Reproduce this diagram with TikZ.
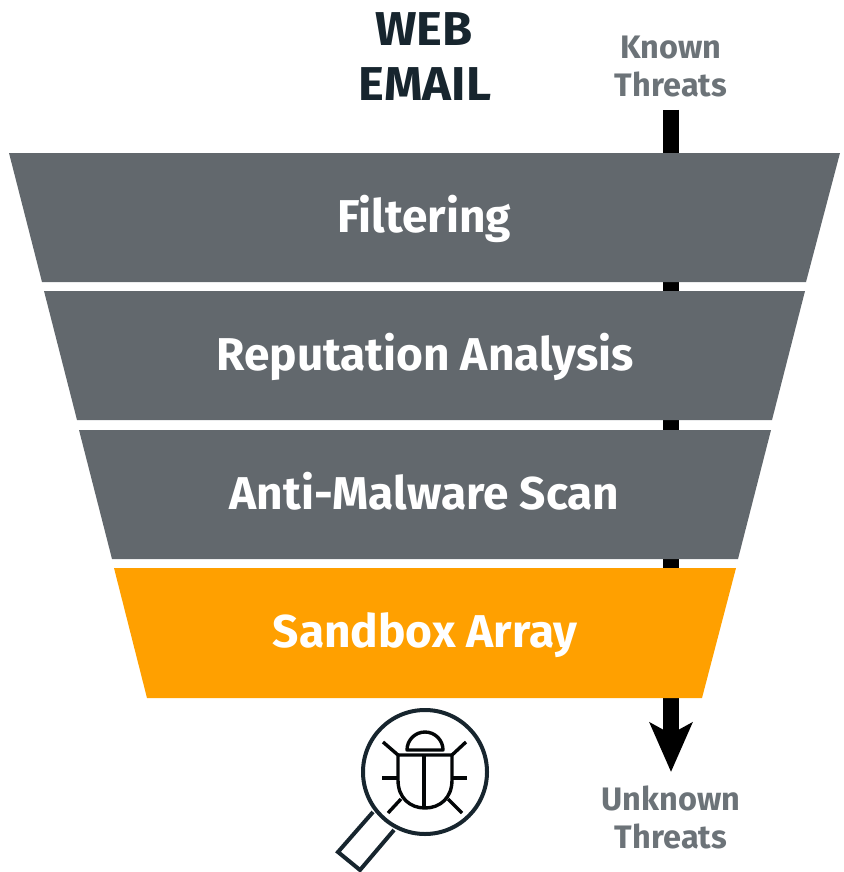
\documentclass[tikz,border=0pt]{standalone}
\usepackage{fontspec}
\setmainfont{Fira Sans}
\usetikzlibrary{arrows.meta}
\definecolor{slab}{HTML}{62686D}
\definecolor{amber}{HTML}{FFA000}
\definecolor{ink}{HTML}{17252E}
\definecolor{soft}{HTML}{6C7378}
\tikzset{
  layer/.style={fill=slab,draw=none},
  sandlayer/.style={fill=amber,draw=none},
  layertext/.style={text=white,font=\fontsize{46}{46}\selectfont\bfseries,inner sep=0pt,anchor=base},
  headtext/.style={text=ink,font=\fontsize{47.5}{48}\selectfont\bfseries,inner sep=0pt,anchor=base,xscale=1.03},
  sidetext/.style={text=soft,font=\fontsize{32.5}{38}\selectfont\bfseries,inner sep=0pt,anchor=base},
  flow/.style={line width=16pt,draw=black,-{Stealth[length=49pt,width=42pt,inset=11pt]}},
  icon/.style={draw=ink,line width=4pt,line join=miter},
  bug/.style={draw=black!85!ink,line width=3.4pt,line join=round}
}
\begin{document}
\begin{tikzpicture}[x=1pt,y=-1pt]
\useasboundingbox (0,0) rectangle (843,872);
\coordinate (arrowstart) at (671,110);
\coordinate (arrowend) at (671,772);
\draw[flow] (arrowstart) -- (arrowend);
\fill[layer] (9,153) -- (840,153) -- (806,282) -- (42,282) -- cycle;
\fill[layer] (44,291) -- (805,291) -- (772,420) -- (77,420) -- cycle;
\fill[layer] (79,430) -- (771,430) -- (738,559) -- (112,559) -- cycle;
\fill[sandlayer] (114,568) -- (736,568) -- (702,698) -- (147,698) -- cycle;
\node[layertext] (filtering) at (424.5,232) {Filtering};
\node[layertext] (reputation) at (425,370.5) {Reputation Analysis};
\node[layertext] (antimalware) at (424.5,509) {Anti-Malware Scan};
\node[layertext] (sandbox) at (425,647.5) {Sandbox Array};
\node[headtext] (web) at (424,45.5) {WEB};
\node[headtext] (email) at (425,100.5) {EMAIL};
\node[sidetext] (known) at (671,59) {Known};
\node[sidetext] (threatsa) at (671,97) {Threats};
\node[sidetext] (unknown) at (671,810) {Unknown};
\node[sidetext] (threatsb) at (671,848) {Threats};
% magnifier
\draw[icon] (425,772) circle (62);
\draw[icon] (373,812) -- (338,852) -- (360,870) -- (394,830);
% bug
\draw[bug] (407,750) arc (180:360:18) -- cycle;
\draw[bug] (398,755) -- (452,755) -- (452,780) .. controls (452,798) and (440,808) .. (425,808) .. controls (410,808) and (398,798) .. (398,780) -- cycle;
\draw[bug] (424,755) -- (424,808);
\draw[bug] (383,742) -- (398,755);
\draw[bug] (466,742) -- (452,755);
\draw[bug] (382,778) -- (398,778);
\draw[bug] (467,778) -- (452,778);
\draw[bug] (388,813) -- (401,799);
\draw[bug] (462,813) -- (448,799);
\end{tikzpicture}
\end{document}
